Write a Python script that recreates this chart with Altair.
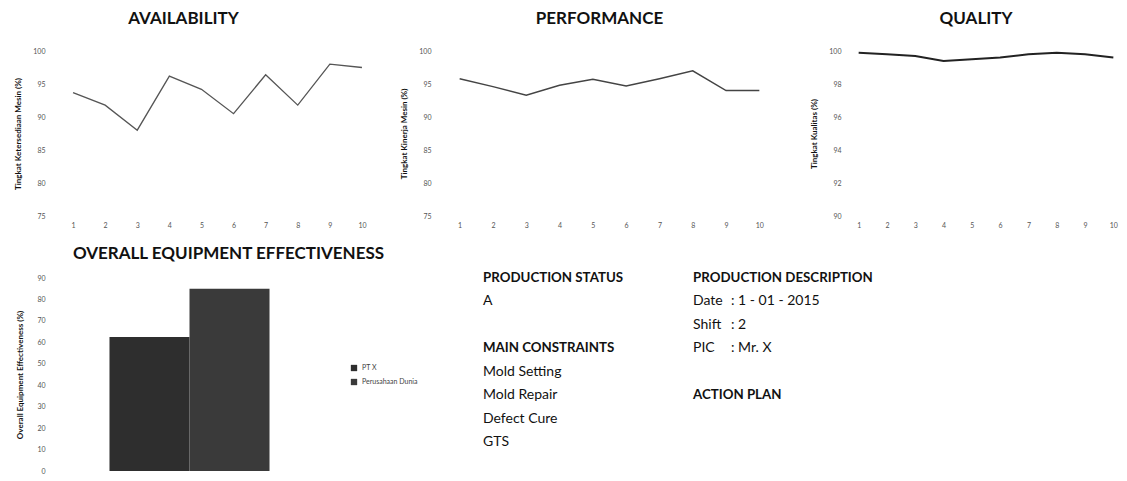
import altair as alt
import pandas as pd

FONT = "Lato"

# ---------------- data ----------------
x_labels = [1, 2, 3, 4, 5, 6, 7, 8, 9, 10]
availability = [93.7, 91.8, 88.0, 96.2, 94.2, 90.5, 96.4, 91.8, 98.0, 97.5]
performance = [95.8, 94.6, 93.3, 94.8, 95.7, 94.7, 95.8, 97.0, 94.0, 94.0]
quality = [99.9, 99.8, 99.7, 99.4, 99.5, 99.6, 99.8, 99.9, 99.8, 99.6]

avail_ticks = [75, 80, 85, 90, 95, 100]
perf_ticks = [75, 80, 85, 90, 95, 100]
qual_ticks = [90, 92, 94, 96, 98, 100]

oee_categories = ["PT X", "Perusahaan Dunia"]
oee_values = [62.5, 85.0]
oee_ticks = [0, 10, 20, 30, 40, 50, 60, 70, 80, 90]

status_title = "PRODUCTION STATUS"
status_value = "A"
constraints_title = "MAIN CONSTRAINTS"
constraints = ["Mold Setting", "Mold Repair", "Defect Cure", "GTS"]
desc_title = "PRODUCTION DESCRIPTION"
desc_labels = ["Date", "Shift", "PIC"]
desc_values = [": 1 - 01 - 2015", ": 2", ": Mr. X"]
action_title = "ACTION PLAN"


def line_panel(values, title, ytitle, ticks, width, pad, color, sw, dx):
    df = pd.DataFrame({"x": x_labels, "v": values})
    return (
        alt.Chart(df)
        .mark_line(color=color, strokeWidth=sw)
        .encode(
            x=alt.X(
                "x:O",
                scale=alt.Scale(type="point", padding=pad),
                axis=alt.Axis(
                    title=None, labelAngle=0, ticks=False, domain=False,
                    labelPadding=5, labelFontSize=7, labelColor="#555", labelFont=FONT,
                ),
            ),
            y=alt.Y(
                "v:Q",
                scale=alt.Scale(domain=[ticks[0], ticks[-1]], nice=False, zero=False),
                axis=alt.Axis(
                    values=ticks, title=ytitle, grid=False, ticks=False, domain=False,
                    labelPadding=12, labelFontSize=7, labelColor="#555", labelFont=FONT,
                    titlePadding=10, titleFontSize=8, titleFont=FONT, titleColor="#111",
                    titleFontWeight="bold",
                ),
            ),
        )
        .properties(
            width=width,
            height=165,
            title=alt.TitleParams(
                title, fontSize=17, font=FONT, fontWeight="bold", color="#111",
                offset=19, anchor="middle", frame="group", dx=dx,
            ),
        )
    )


p_avail = line_panel(availability, "AVAILABILITY", "Tingkat Ketersediaan Mesin (%)",
                     avail_ticks, 321, 0.5, "#555", 1.3, -34)
p_perf = line_panel(performance, "PERFORMANCE", "Tingkat Kinerja Mesin (%)",
                    perf_ticks, 333, 0.5, "#444", 1.5, -10)
p_qual = line_panel(quality, "QUALITY", "Tingkat Kualitas (%)",
                    qual_ticks, 266, 0.2, "#222", 2, -10)

top = alt.hconcat(alt.hconcat(p_avail, p_perf, spacing=22), p_qual, spacing=34)

# ---------------- OEE bar chart ----------------
oee_df = pd.DataFrame({"cat": oee_categories, "val": oee_values})
oee = (
    alt.Chart(oee_df)
    .mark_bar()
    .encode(
        x=alt.X(
            "cat:N", sort=oee_categories,
            scale=alt.Scale(paddingInner=0, paddingOuter=0.656),
            axis=None,
        ),
        y=alt.Y(
            "val:Q",
            scale=alt.Scale(domain=[0, 90], nice=False),
            axis=alt.Axis(
                values=oee_ticks, title="Overall Equipment Effectiveness (%)",
                grid=False, ticks=False, domain=False,
                labelPadding=12, labelFontSize=7, labelColor="#555", labelFont=FONT,
                titlePadding=12, titleFontSize=8, titleFont=FONT, titleColor="#111",
                titleFontWeight="bold",
            ),
        ),
        color=alt.Color(
            "cat:N", sort=oee_categories,
            scale=alt.Scale(domain=oee_categories, range=["#2e2e2e", "#3a3a3a"]),
            legend=alt.Legend(
                title=None, orient="none", legendX=293, legendY=313,
                symbolType="square", symbolSize=40, labelFontSize=7,
                labelColor="#444", labelFont=FONT, rowPadding=6,
            ),
        ),
    )
    .properties(
        width=265,
        height=193,
        title=alt.TitleParams(
            "OVERALL EQUIPMENT EFFECTIVENESS", fontSize=17, font=FONT,
            fontWeight="bold", color="#111", offset=11, anchor="middle",
            frame="group", dx=39,
        ),
    )
)

# ---------------- text panel ----------------
rows = []
rows.append({"t": status_title, "c": 0, "r": 0, "b": 1})
rows.append({"t": status_value, "c": 0, "r": 1, "b": 0})
rows.append({"t": constraints_title, "c": 0, "r": 3, "b": 1})
for i, s in enumerate(constraints):
    rows.append({"t": s, "c": 0, "r": 4 + i, "b": 0})
rows.append({"t": desc_title, "c": 1, "r": 0, "b": 1})
for i, (lab, val) in enumerate(zip(desc_labels, desc_values)):
    rows.append({"t": lab, "c": 1, "r": 1 + i, "b": 0})
    rows.append({"t": val, "c": 2, "r": 1 + i, "b": 0})
rows.append({"t": action_title, "c": 1, "r": 5, "b": 1})
text_df = pd.DataFrame(rows)

xenc = alt.X("c:Q", scale=alt.Scale(domain=[0, 1, 2], range=[68, 278, 316]), axis=None)
yenc = alt.Y("r:Q", scale=alt.Scale(domain=[0, 7], range=[0, 164]), axis=None)

base_text = alt.Chart(text_df)
txt_bold = base_text.mark_text(
    align="left", baseline="middle", font=FONT, fontSize=13.3, fontWeight="bold", color="#111"
).encode(x=xenc, y=yenc, text="t:N").transform_filter("datum.b == 1")
txt_reg = base_text.mark_text(
    align="left", baseline="middle", font=FONT, fontSize=14, color="#111"
).encode(x=xenc, y=yenc, text="t:N").transform_filter("datum.b == 0")
text_panel = alt.layer(txt_bold, txt_reg).properties(width=620, height=193)

bottom = alt.hconcat(oee, text_panel, spacing=30)

chart = (
    alt.vconcat(top, bottom, spacing=17)
    .properties(padding={"left": 6, "top": 2, "right": 0, "bottom": 0}, background="white")
    .configure_view(stroke=None)
)

chart.save("out.html", embed_options={"renderer": "svg", "actions": False})
